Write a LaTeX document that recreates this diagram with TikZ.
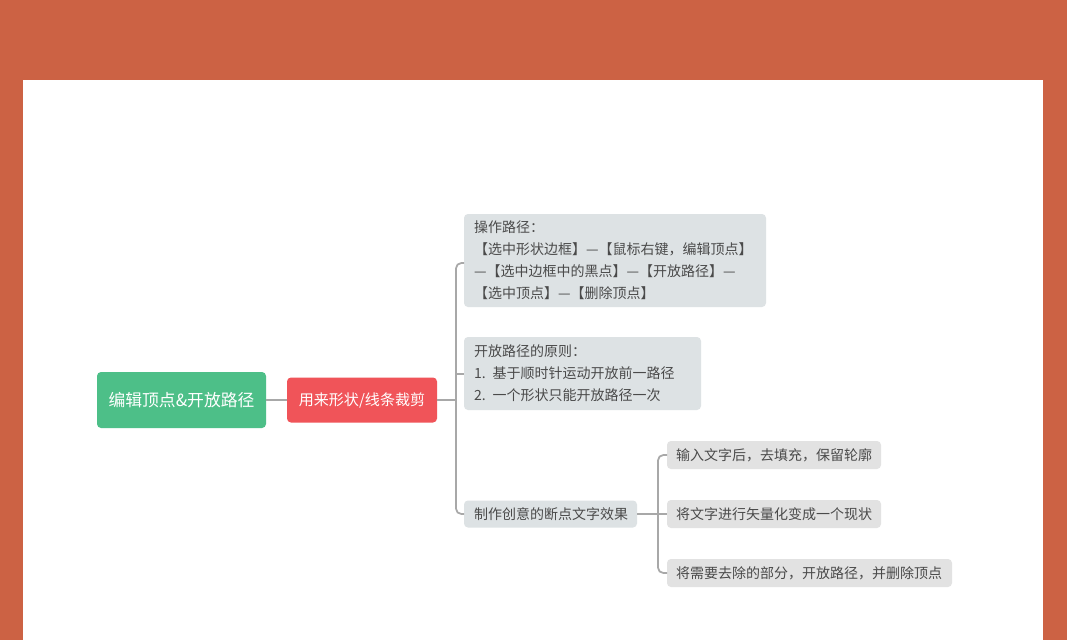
\documentclass[tikz,border=0pt]{standalone}
\usepackage{fontspec}
\setmainfont{Noto Sans CJK SC}
\begin{document}
\begin{tikzpicture}[x=0.75pt,y=-0.75pt,
  every node/.style={inner sep=0pt, outer sep=0pt},
  rootbox/.style={draw=none, fill=rootgreen, rounded corners=3pt, text=white, font=\fontsize{12.6pt}{15pt}\selectfont, minimum width=169*0.75pt, minimum height=56*0.75pt},
  mainbox/.style={draw=none, fill=mainred, rounded corners=3pt, text=white, font=\fontsize{11.3pt}{14pt}\selectfont, minimum width=150*0.75pt, minimum height=45*0.75pt},
  topicbox/.style={draw=none, fill=topicgray, rounded corners=3pt, text=textgray, font=\fontsize{10.5pt}{16.5pt}\selectfont, anchor=north west, align=left, inner xsep=10*0.75pt, inner ysep=5*0.75pt},
  subbox/.style={draw=none, fill=subgray, rounded corners=3pt, text=textgray, font=\fontsize{10.5pt}{14pt}\selectfont, anchor=west, align=left, inner xsep=9*0.75pt, minimum height=28*0.75pt},
  link/.style={draw=linegray, line width=1.3pt},
]
\definecolor{bgorange}{HTML}{CC6244}
\definecolor{rootgreen}{HTML}{4DBF88}
\definecolor{mainred}{HTML}{F05459}
\definecolor{topicgray}{HTML}{DDE2E4}
\definecolor{subgray}{HTML}{E2E2E2}
\definecolor{textgray}{HTML}{4A4A4A}
\definecolor{linegray}{HTML}{A8A8A8}
\useasboundingbox (0,0) rectangle (1067,640);
\fill[bgorange] (0,0) rectangle (1067,640);
\fill[white] (23,80) rectangle (1043,640);

\node[rootbox] (root) at (181.5,400) {编辑顶点\&开放路径};
\node[mainbox] (main) at (362,400) {用来形状/线条裁剪};

\node[topicbox, text width=282*0.75pt, minimum height=93*0.75pt] (t1) at (464,214) {操作路径：\\【选中形状边框】—【鼠标右键，编辑顶点】\\—【选中边框中的黑点】—【开放路径】—\\【选中顶点】—【删除顶点】};
\node[topicbox, text width=217*0.75pt, minimum height=73*0.75pt] (t2) at (464,337) {开放路径的原则：\\1. 基于顺时针运动开放前一路径\\2. 一个形状只能开放路径一次};
\node[topicbox, anchor=west, text width=153*0.75pt, minimum height=27*0.75pt, inner ysep=0pt] (t3) at (464,514) {制作创意的断点文字效果};

\node[subbox, text width=196*0.75pt] (s1) at (667,455) {输入文字后，去填充，保留轮廓};
\node[subbox, text width=196*0.75pt] (s2) at (667,514) {将文字进行矢量化变成一个现状};
\node[subbox, text width=267*0.75pt] (s3) at (667,573) {将需要去除的部分，开放路径，并删除顶点};

\coordinate (j1) at (456,400);
\coordinate (j2) at (658,514);

\draw[link] (root.east) -- (main.west);
\draw[link] (main.east) -- (j1);
\draw[link, rounded corners=4pt] (j1) |- (t1.west |- 0,263);
\draw[link] (j1) |- (t2.west |- 0,374);
\draw[link, rounded corners=4pt] (j1) |- (t3.west);
\draw[link] (t3.east) -- (j2);
\draw[link, rounded corners=4pt] (j2) |- (s1.west);
\draw[link] (j2) -- (s2.west);
\draw[link, rounded corners=4pt] (j2) |- (s3.west);
\end{tikzpicture}
\end{document}
